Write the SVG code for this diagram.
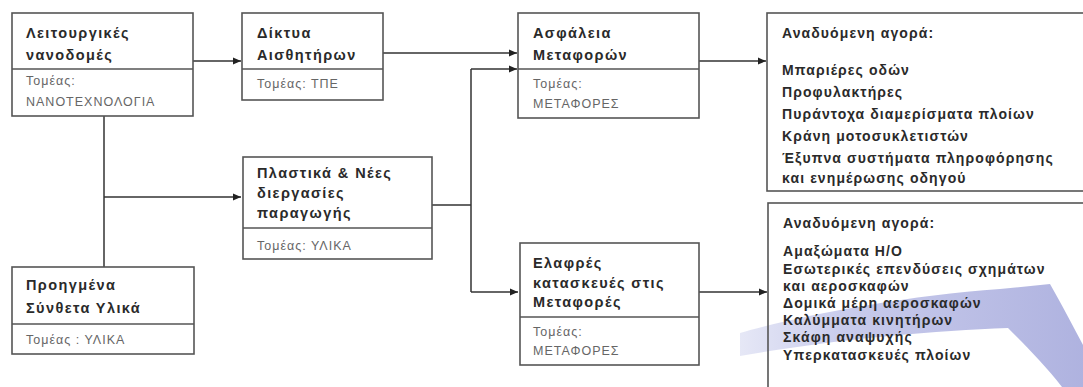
<svg xmlns="http://www.w3.org/2000/svg" width="1083" height="387" viewBox="0 0 1083 387">
<style>
.box{fill:none;stroke:#555;stroke-width:1.6}
.div{stroke:#555;stroke-width:1.4}
.t{font-family:"Liberation Sans",Arial,sans-serif;font-size:14.5px;font-weight:bold;fill:#2a2a2a;letter-spacing:1.4px}
.s{font-family:"Liberation Sans",Arial,sans-serif;font-size:12.5px;fill:#666;letter-spacing:1px}
.m{font-family:"Liberation Sans",Arial,sans-serif;font-size:14px;font-weight:bold;fill:#2a2a2a;letter-spacing:1.1px}
.ln{fill:none;stroke:#333;stroke-width:1.5}
</style>
<defs>
<marker id="ah" markerUnits="userSpaceOnUse" markerWidth="9" markerHeight="8" refX="8" refY="4" orient="auto">
<path d="M0,0.5 L8,4 L0,7.5 z" fill="#222"/>
</marker>
<linearGradient id="wm" x1="740" y1="0" x2="1083" y2="0" gradientUnits="userSpaceOnUse">
<stop offset="0" stop-color="#e3e5f5"/>
<stop offset="0.3" stop-color="#c3c6ea"/>
<stop offset="1" stop-color="#a6aadc"/>
</linearGradient>
</defs>
<rect width="1083" height="387" fill="#fff"/>
<g id="watermark">
<path d="M740,333 C790,318 900,296 1000,289 L1050,284 C1062,305 1074,328 1083,345 L1083,387 L1062,387 C1045,365 1025,345 1008,328 C930,331 830,340 740,356 z" fill="url(#wm)" opacity="0.9"/>
</g>
<g id="connectors">
<path class="ln" d="M193,61 H241" marker-end="url(#ah)"/>
<path class="ln" d="M383,53 H517" marker-end="url(#ah)"/>
<path class="ln" d="M104,116 V267"/>
<path class="ln" d="M104,197 H241" marker-end="url(#ah)"/>
<path class="ln" d="M432,205 H471"/>
<path class="ln" d="M471,69 V292"/>
<path class="ln" d="M471,69 H517" marker-end="url(#ah)"/>
<path class="ln" d="M471,292 H518" marker-end="url(#ah)"/>
<path class="ln" d="M699,61 H766" marker-end="url(#ah)"/>
<path class="ln" d="M699,292 H767" marker-end="url(#ah)"/>
</g>
<g id="n1">
<rect class="box" x="12" y="13" width="181" height="103"/>
<line class="div" x1="12" y1="69" x2="193" y2="69"/>
<text class="t" x="26" y="38">Λειτουργικές</text>
<text class="t" x="26" y="60">νανοδομές</text>
<text class="s" x="26" y="85">Τομέας:</text>
<text class="s" x="26" y="106">ΝΑΝΟΤΕΧΝΟΛΟΓΙΑ</text>
</g>
<g id="n2">
<rect class="box" x="242" y="13" width="141" height="87"/>
<line class="div" x1="242" y1="69" x2="383" y2="69"/>
<text class="t" x="257" y="38">Δίκτυα</text>
<text class="t" x="257" y="60">Αισθητήρων</text>
<text class="s" x="257" y="88">Τομέας: ΤΠΕ</text>
</g>
<g id="n3">
<rect class="box" x="518" y="13" width="181" height="105"/>
<line class="div" x1="518" y1="69" x2="699" y2="69"/>
<text class="t" x="533" y="38">Ασφάλεια</text>
<text class="t" x="533" y="60">Μεταφορών</text>
<text class="s" x="533" y="88">Τομέας:</text>
<text class="s" x="533" y="108">ΜΕΤΑΦΟΡΕΣ</text>
</g>
<g id="n4">
<rect class="box" x="767" y="13" width="330" height="178"/>
<text class="m" x="782" y="38">Αναδυόμενη αγορά:</text>
<text class="m" x="782" y="75">Μπαριέρες οδών</text>
<text class="m" x="782" y="97">Προφυλακτήρες</text>
<text class="m" x="782" y="119">Πυράντοχα διαμερίσματα πλοίων</text>
<text class="m" x="782" y="141">Κράνη μοτοσυκλετιστών</text>
<text class="m" x="782" y="163">Έξυπνα συστήματα πληροφόρησης</text>
<text class="m" x="782" y="183">και ενημέρωσης οδηγού</text>
</g>
<g id="n5">
<rect class="box" x="12" y="267" width="182" height="87"/>
<line class="div" x1="12" y1="324" x2="194" y2="324"/>
<text class="t" x="26" y="290">Προηγμένα</text>
<text class="t" x="26" y="313">Σύνθετα Υλικά</text>
<text class="s" x="26" y="344">Τομέας : ΥΛΙΚΑ</text>
</g>
<g id="n6">
<rect class="box" x="243" y="157" width="189" height="102"/>
<line class="div" x1="243" y1="228" x2="432" y2="228"/>
<text class="t" x="257" y="178">Πλαστικά &amp; Νέες</text>
<text class="t" x="257" y="198">διεργασίες</text>
<text class="t" x="257" y="218">παραγωγής</text>
<text class="s" x="257" y="250">Τομέας: ΥΛΙΚΑ</text>
</g>
<g id="n7">
<rect class="box" x="520" y="243" width="179" height="122"/>
<line class="div" x1="520" y1="317" x2="699" y2="317"/>
<text class="t" x="533" y="268">Ελαφρές</text>
<text class="t" x="533" y="288">κατασκευές στις</text>
<text class="t" x="533" y="307">Μεταφορές</text>
<text class="s" x="533" y="336">Τομέας:</text>
<text class="s" x="533" y="355">ΜΕΤΑΦΟΡΕΣ</text>
</g>
<g id="n8">
<rect class="box" x="768" y="203" width="330" height="200"/>
<text class="m" x="783" y="228">Αναδυόμενη αγορά:</text>
<text class="m" x="783" y="256">Αμαξώματα Η/Ο</text>
<text class="m" x="783" y="274">Εσωτερικές επενδύσεις σχημάτων</text>
<text class="m" x="783" y="291">και αεροσκαφών</text>
<text class="m" x="783" y="308">Δομικά μέρη αεροσκαφών</text>
<text class="m" x="783" y="325">Καλύμματα κινητήρων</text>
<text class="m" x="783" y="342">Σκάφη αναψυχής</text>
<text class="m" x="783" y="360">Υπερκατασκευές πλοίων</text>
</g>
</svg>
